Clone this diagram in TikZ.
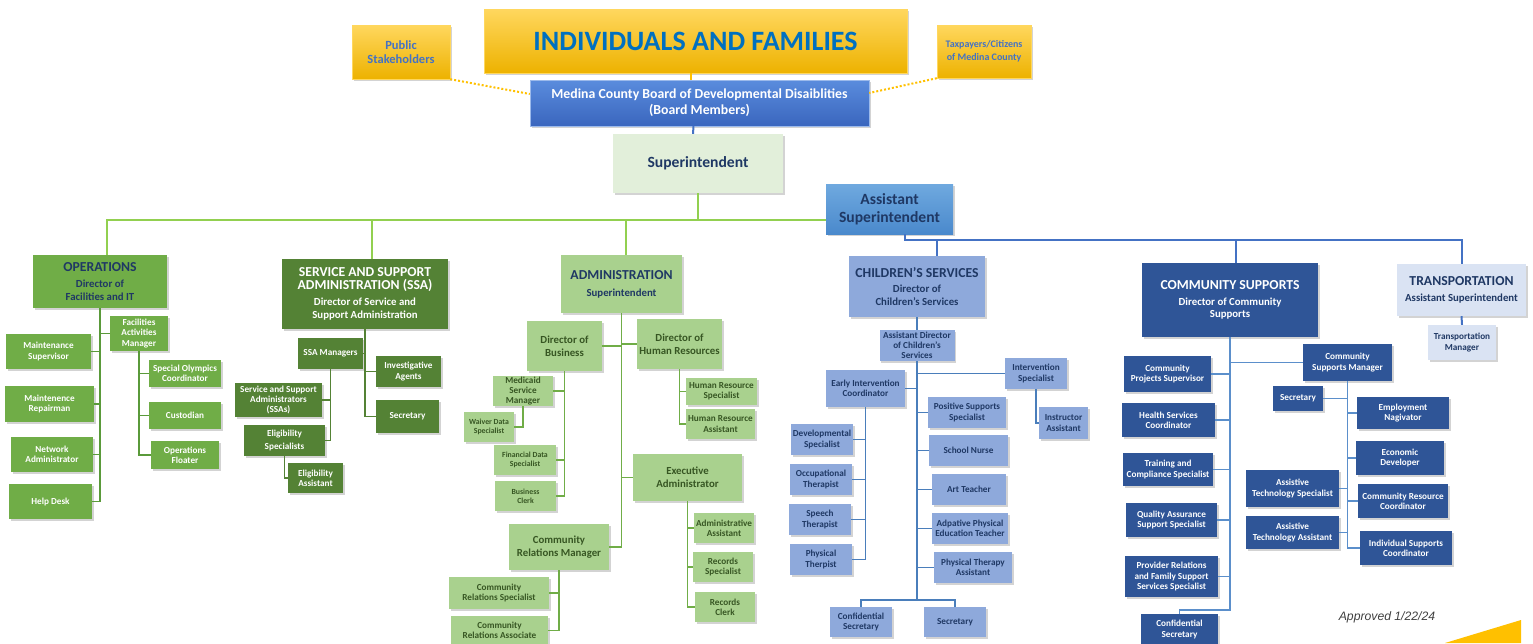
\documentclass[tikz,border=0pt]{standalone}
\usepackage{fontspec}
\setmainfont{Carlito}
\newfontfamily\apprfont{Liberation Sans}
\usepackage{xcolor}
\definecolor{ddyel}{HTML}{FFC000}
\definecolor{ddyeltop}{HTML}{FFD75E}
\definecolor{ddyelbot}{HTML}{EDB200}
\definecolor{ddbrdtop}{HTML}{5A8CDD}
\definecolor{ddbrdbot}{HTML}{3A66BE}
\definecolor{ddasttop}{HTML}{6FA9DF}
\definecolor{ddastbot}{HTML}{4A89CC}
\definecolor{ddsup}{HTML}{E2EFDA}
\definecolor{ddops}{HTML}{70AD47}
\definecolor{ddssa}{HTML}{548235}
\definecolor{ddadm}{HTML}{A9D18E}
\definecolor{ddchl}{HTML}{8EA9DB}
\definecolor{ddcom}{HTML}{2F5597}
\definecolor{ddtrn}{HTML}{DAE3F3}
\definecolor{ddnavy}{HTML}{1F3864}
\definecolor{ddtitle}{HTML}{0070C0}
\definecolor{ddstake}{HTML}{4472C4}
\definecolor{ddadmtxt}{HTML}{375623}
\definecolor{ddlime}{HTML}{92D050}
\definecolor{ddbus}{HTML}{4472C4}
\definecolor{ddopsln}{HTML}{5A9A3A}
\definecolor{ddchlln}{HTML}{4A7EBB}
\definecolor{ddcomln}{HTML}{5B8FCB}
\usepackage{tikz}
\usetikzlibrary{shadows,calc}
\tikzset{
  ddbox/.style={inner sep=1pt,align=center,drop shadow={shadow xshift=1.5pt,shadow yshift=-1.5pt,opacity=.35}},
  smtext/.style={font=\bfseries\fontsize{9.2}{10.2}\selectfont},
  xstext/.style={font=\bfseries\fontsize{7.8}{9}\selectfont},
  subtext/.style={font=\bfseries\fontsize{10.8}{12.8}\selectfont},
  topbox/.style={ddbox,top color=ddyeltop,bottom color=ddyelbot,draw=ddyeltop,text=ddstake},
  boardbox/.style={ddbox,top color=ddbrdtop,bottom color=ddbrdbot,draw=ddbrdtop!60,text=white,font=\bfseries\fontsize{13.8}{16}\selectfont},
  astbox/.style={ddbox,top color=ddasttop,bottom color=ddastbot,text=ddnavy,font=\bfseries\fontsize{15.6}{17.5}\selectfont},
  supbox/.style={ddbox,fill=ddsup,text=ddnavy,font=\bfseries\fontsize{15.6}{17.5}\selectfont},
  opshead/.style={ddbox,fill=ddops,text=ddnavy,subtext},
  opsbox/.style={ddbox,fill=ddops,text=white,smtext},
  ssabox/.style={ddbox,fill=ddssa,text=white,smtext},
  admhead/.style={ddbox,fill=ddadm,text=ddnavy,subtext},
  admbox/.style={ddbox,fill=ddadm,text=ddadmtxt,smtext},
  chlbox/.style={ddbox,fill=ddchl,text=ddnavy,smtext},
  combox/.style={ddbox,fill=ddcom,text=white,smtext},
  trnbox/.style={ddbox,fill=ddtrn,text=ddnavy,smtext},
  limeline/.style={draw=ddlime,line width=2.2pt},
  busline/.style={draw=ddbus,line width=2pt},
  yelline/.style={draw=ddyel,line width=2pt},
  dotline/.style={draw=ddyel,line width=2pt,dotted},
  opsline/.style={draw=ddopsln,line width=1.6pt},
  ssaline/.style={draw=ddssa,line width=1.6pt},
  admline/.style={draw=ddops,line width=1.6pt},
  chlline/.style={draw=ddchlln,line width=1.8pt},
  comline/.style={draw=ddcomln,line width=1.6pt},
}
\newcommand{\hdfont}{\fontsize{13.7}{16}\selectfont}

\begin{document}
\begin{tikzpicture}[x=1pt,y=-1pt]
\useasboundingbox (0,0) rectangle (1533,643);
\node[topbox,minimum width=423pt,minimum height=64pt,text=ddtitle,font=\bfseries\fontsize{28}{31}\selectfont] (ind) at (695.5,41) {INDIVIDUALS AND FAMILIES};
\node[topbox,minimum width=98pt,minimum height=54pt,font=\bfseries\fontsize{12.5}{14}\selectfont] (pub) at (401,52) {Public\\Stakeholders};
\node[topbox,minimum width=94pt,minimum height=53pt,font=\bfseries\fontsize{10}{12.5}\selectfont] (tax) at (984,51.5) {Taxpayers/Citizens\\of Medina County};
\node[boardbox,minimum width=339pt,minimum height=46pt] (brd) at (699.5,103) {Medina County Board of Developmental Disaiblities\\(Board Members)};
\node[supbox,minimum width=170pt,minimum height=59pt] (sup) at (698,163.5) {Superintendent};
\node[astbox,minimum width=127pt,minimum height=50pt] (asup) at (889.5,209) {Assistant\\Superintendent};

\node[opshead,minimum width=134pt,minimum height=53pt] (ops) at (100,281.5) {{\hdfont OPERATIONS}\\[3pt]Director of\\Facilities and IT};
\node[opsbox,minimum width=85pt,minimum height=35pt] (msup) at (48.5,351.5) {Maintenance\\Supervisor};
\node[opsbox,minimum width=89pt,minimum height=36pt] (mrep) at (49.5,404) {Maintenence\\Repairman};
\node[opsbox,minimum width=82pt,minimum height=35pt] (nadm) at (52,454.5) {Network\\Administrator};
\node[opsbox,minimum width=83pt,minimum height=35pt] (hdsk) at (50.5,501.5) {Help Desk};
\node[opsbox,minimum width=58pt,minimum height=35pt] (fam) at (139,333.5) {Facilities\\Activities\\Manager};
\node[opsbox,minimum width=72pt,minimum height=27pt] (soc) at (185,373.5) {Special Olympics\\Coordinator};
\node[opsbox,minimum width=72pt,minimum height=27pt] (cust) at (185,415.5) {Custodian};
\node[opsbox,minimum width=68pt,minimum height=28pt] (oflt) at (185,455) {Operations\\Floater};

\node[ssabox,minimum width=166pt,minimum height=70pt,subtext] (ssa) at (365,294) {{\hdfont SERVICE AND SUPPORT}\\{\hdfont ADMINISTRATION (SSA)}\\[3pt]Director of Service and\\Support Administration};
\node[ssabox,minimum width=65pt,minimum height=31pt] (ssam) at (330.5,353.5) {SSA Managers};
\node[ssabox,minimum width=65pt,minimum height=31pt] (inva) at (408.5,371.5) {Investigative\\Agents};
\node[ssabox,minimum width=63pt,minimum height=33pt] (ssec) at (407.5,416.5) {Secretary};
\node[ssabox,minimum width=87pt,minimum height=34pt] (ssas) at (278.5,400) {Service and Support\\Administrators\\(SSAs)};
\node[ssabox,minimum width=81pt,minimum height=31pt] (elsp) at (284.5,440.5) {Eligibility\\[3pt]Specialists};
\node[ssabox,minimum width=55pt,minimum height=30pt] (elas) at (315.5,478) {Eligibility\\Assistant};

\node[admhead,minimum width=121pt,minimum height=58pt] (adm) at (621.5,284) {{\hdfont ADMINISTRATION}\\[4pt]Superintendent};
\node[admbox,subtext,minimum width=75pt,minimum height=50pt] (dbus) at (564.5,346) {Director of\\Business};
\node[admbox,subtext,minimum width=85pt,minimum height=50pt] (dhr) at (679.5,344) {Director of\\Human Resources};
\node[admbox,subtext,minimum width=109pt,minimum height=47pt] (exad) at (687.5,477.5) {Executive\\Administrator};
\node[admbox,subtext,minimum width=100pt,minimum height=46pt] (crm) at (559,547) {Community\\Relations Manager};
\node[admbox,minimum width=60pt,minimum height=30pt] (med) at (523,391) {Medicaid\\Service\\Manager};
\node[admbox,xstext,minimum width=50pt,minimum height=30pt] (wai) at (489,427) {Waiver Data\\Specialist};
\node[admbox,xstext,minimum width=62pt,minimum height=30pt] (fin) at (525,460) {Financial Data\\Specialist};
\node[admbox,xstext,minimum width=61pt,minimum height=30pt] (bcl) at (525.5,496) {Business\\Clerk};
\node[admbox,minimum width=71pt,minimum height=27pt] (hrs) at (721.5,391.5) {Human Resource\\Specialist};
\node[admbox,minimum width=69pt,minimum height=30pt] (hra) at (720.5,424) {Human Resource\\Assistant};
\node[admbox,minimum width=60pt,minimum height=30pt] (aas) at (724,528) {Administrative\\Assistant};
\node[admbox,minimum width=60pt,minimum height=30pt] (rsp) at (723,567) {Records\\Specialist};
\node[admbox,minimum width=60pt,minimum height=30pt] (rcl) at (725,607) {Records\\Clerk};
\node[admbox,minimum width=100pt,minimum height=32pt] (crs) at (499,593) {Community\\Relations Specialist};
\node[admbox,minimum width=97pt,minimum height=29pt] (cra) at (499.5,630.5) {Community\\Relations Associate};

\node[chlbox,subtext,minimum width=136pt,minimum height=61pt] (chs) at (917,286.5) {{\hdfont CHILDREN'S SERVICES}\\[3pt]Director of\\Children's Services};
\node[chlbox,minimum width=75pt,minimum height=31pt] (cad) at (917,345.5) {Assistant Director\\of Children's\\Services};
\node[chlbox,minimum width=79pt,minimum height=37pt] (eic) at (865.5,388.5) {Early Intervention\\Coordinator};
\node[chlbox,minimum width=62pt,minimum height=31pt] (ivs) at (1036,373.5) {Intervention\\Specialist};
\node[chlbox,minimum width=49pt,minimum height=32pt] (ina) at (1063.5,423) {Instructor\\Assistant};
\node[chlbox,minimum width=62pt,minimum height=31pt] (dvs) at (822,439.5) {Developmental\\Specialist};
\node[chlbox,minimum width=62pt,minimum height=31pt] (oct) at (821,479.5) {Occupational\\Therapist};
\node[chlbox,minimum width=62pt,minimum height=31pt] (spt) at (820,519.5) {Speech\\Therapist};
\node[chlbox,minimum width=62pt,minimum height=31pt] (pht) at (821,559.5) {Physical\\Therpist};
\node[chlbox,minimum width=78pt,minimum height=31pt] (pss) at (967,412.5) {Positive Supports\\Specialist};
\node[chlbox,minimum width=79pt,minimum height=31pt] (snr) at (968.5,450.5) {School Nurse};
\node[chlbox,minimum width=74pt,minimum height=31pt] (art) at (969,489.5) {Art Teacher};
\node[chlbox,minimum width=76pt,minimum height=31pt] (ape) at (970,528.5) {Adpative Physical\\Education Teacher};
\node[chlbox,minimum width=78pt,minimum height=31pt] (pta) at (973,567.5) {Physical Therapy\\Assistant};
\node[chlbox,minimum width=62pt,minimum height=30pt] (ccs) at (861,622) {Confidential\\Secretary};
\node[chlbox,minimum width=62pt,minimum height=30pt] (csc) at (955,622) {Secretary};

\node[combox,subtext,minimum width=176pt,minimum height=74pt] (cms) at (1230,300) {{\hdfont COMMUNITY SUPPORTS}\\[3pt]Director of Community\\Supports};
\node[combox,minimum width=87pt,minimum height=36pt] (cps) at (1167.5,374) {Community\\Projects Supervisor};
\node[combox,minimum width=93pt,minimum height=34pt] (hsc) at (1168.5,420) {Health Services\\Coordinator};
\node[combox,minimum width=90pt,minimum height=33pt] (tcs) at (1168,469.5) {Training and\\Compliance Specialist};
\node[combox,minimum width=91pt,minimum height=34pt] (qas) at (1171.5,520) {Quality Assurance\\Support Specialist};
\node[combox,minimum width=93pt,minimum height=41pt] (prf) at (1171.5,576.5) {Provider Relations\\and Family Support\\Services Specialist};
\node[combox,minimum width=77pt,minimum height=31pt] (cmc) at (1179.5,629.5) {Confidential\\Secretary};
\node[combox,minimum width=89pt,minimum height=37pt] (csm) at (1347.5,362.5) {Community\\Supports Manager};
\node[combox,minimum width=50pt,minimum height=25pt] (cmsec) at (1298,398.5) {Secretary};
\node[combox,minimum width=92pt,minimum height=32pt] (enav) at (1403,413) {Employment\\Nagivator};
\node[combox,minimum width=88pt,minimum height=34pt] (edev) at (1400,458) {Economic\\Developer};
\node[combox,minimum width=93pt,minimum height=37pt] (ats) at (1292.5,488.5) {Assistive\\Technology Specialist};
\node[combox,minimum width=90pt,minimum height=34pt] (crc) at (1403,501) {Community Resource\\Coordinator};
\node[combox,minimum width=93pt,minimum height=33pt] (ata) at (1292.5,532.5) {Assistive\\Technology Assistant};
\node[combox,minimum width=92pt,minimum height=34pt] (isc) at (1406,548) {Individual Supports\\Coordinator};

\node[trnbox,subtext,minimum width=129pt,minimum height=52pt] (trn) at (1461.5,290) {{\hdfont TRANSPORTATION}\\[3pt]Assistant Superintendent};
\node[trnbox,minimum width=68pt,minimum height=35pt] (tman) at (1462,342.5) {Transportation\\Manager};

\node[text=black!75,font=\apprfont\itshape\fontsize{12.2}{14}\selectfont] (appr) at (1387,617) {Approved 1/22/24};
\fill[ddyel] (1445,643) -- (1521,620) -- (1521,643) -- cycle;

\draw[dotline] (pub.south east) -- ([yshift=9pt]brd.west);
\draw[dotline] (tax.south west) -- ([yshift=10pt]brd.east);
\draw[yelline] ([xshift=-5pt]ind.south) -- ([xshift=-9pt]brd.north);
\draw[busline] ([xshift=-6pt]brd.south) -- ([xshift=-5pt]sup.north);
\coordinate (gbus) at (698,220);
\draw[limeline] (sup.south) -- (gbus) -- (gbus -| asup.west);
\draw[limeline] ([xshift=7pt]ops.north) |- (gbus);
\draw[limeline] ([xshift=7pt]ssa.north) |- (gbus);
\draw[limeline] ([xshift=4.5pt]adm.north) |- (gbus);
\coordinate (bbus) at (905,240);
\draw[busline] ([xshift=15.5pt]asup.south) -- (bbus) -| (trn.north);
\draw[busline] ([xshift=20pt]chs.north) |- (bbus);
\draw[busline] ([xshift=6pt]cms.north) |- (bbus);
\draw[busline] (trn.south) -- (tman.north);

\draw[opsline] (ops.south) |- (msup.east);
\draw[opsline] (ops.south) |- (mrep.east);
\draw[opsline] (ops.south) |- (nadm.east);
\draw[opsline] (ops.south) |- (hdsk.east);
\draw[opsline] (ops.south) |- (fam.west);
\draw[opsline] (fam.south) |- (soc.west);
\draw[opsline] (fam.south) |- (cust.west);
\draw[opsline] (fam.south) |- (oflt.west);

\draw[ssaline] (ssa.south) |- (ssam.east);
\draw[ssaline] (ssa.south) |- (inva.west);
\draw[ssaline] (ssa.south) |- (ssec.west);
\draw[ssaline] (ssam.south) |- (ssas.east);
\draw[ssaline] (ssam.south) |- (elsp.east);
\draw[ssaline] (elsp.south) |- (elas.west);

\draw[admline] (adm.south) |- (dbus.east);
\draw[admline] (adm.south) |- (dhr.west);
\draw[admline] (adm.south) |- (exad.west);
\draw[admline] (adm.south) |- (crm.east);
\draw[admline] (dbus.south) |- (med.east);
\draw[admline] (dbus.south) |- (fin.east);
\draw[admline] (dbus.south) |- (bcl.east);
\draw[admline] (med.south) |- (wai.east);
\draw[admline] (dhr.south) |- (hrs.west);
\draw[admline] (dhr.south) |- (hra.west);
\draw[admline] (exad.south) |- (aas.west);
\draw[admline] (exad.south) |- (rsp.west);
\draw[admline] (exad.south) |- (rcl.west);
\draw[admline] (crm.south) |- (crs.east);
\draw[admline] (crm.south) |- (cra.east);

\coordinate (csb) at (917,600);
\draw[chlline] (chs.south) -- (cad.north);
\draw[chlline] (cad.south) -- (csb);
\draw[chlline] (ccs.north) |- (csb);
\draw[chlline] (csc.north) |- (csb);
\draw[chlline] (cad.south) |- (eic.east);
\draw[chlline] (cad.south) |- (ivs.west);
\draw[chlline] (cad.south) |- (pss.west);
\draw[chlline] (cad.south) |- (snr.west);
\draw[chlline] (cad.south) |- (art.west);
\draw[chlline] (cad.south) |- (ape.west);
\draw[chlline] (cad.south) |- (pta.west);
\draw[chlline] (ivs.south) |- (ina.west);
\draw[chlline] (eic.south) |- (dvs.east);
\draw[chlline] (eic.south) |- (oct.east);
\draw[chlline] (eic.south) |- (spt.east);
\draw[chlline] (eic.south) |- (pht.east);

\draw[comline] (cms.south) |- (cps.east);
\draw[comline] (cms.south) |- (hsc.east);
\draw[comline] (cms.south) |- (tcs.east);
\draw[comline] (cms.south) |- (qas.east);
\draw[comline] (cms.south) |- (prf.east);
\draw[comline] (cms.south) |- (csm.west);
\draw[comline] (cms.south) -- ++(0,273) -| (cmc.north);
\draw[comline] (csm.south) |- (cmsec.east);
\draw[comline] (csm.south) |- (enav.west);
\draw[comline] (csm.south) |- (edev.west);
\draw[comline] (csm.south) |- (ats.east);
\draw[comline] (csm.south) |- (crc.west);
\draw[comline] (csm.south) |- (ata.east);
\draw[comline] (csm.south) |- (isc.west);
\end{tikzpicture}
\end{document}
